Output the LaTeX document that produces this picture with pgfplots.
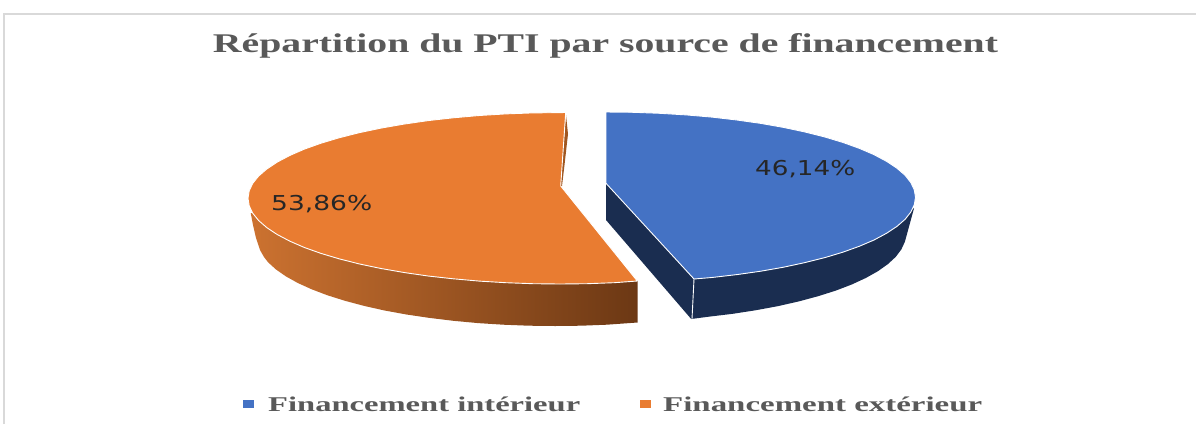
\documentclass[border=0pt]{standalone}
\usepackage{pgfplots}
\pgfplotsset{compat=1.18}
\usepackage{fontspec}
\setmainfont{Liberation Serif}
\newfontfamily\lab{DejaVu Sans}
\definecolor{blueTop}{HTML}{4472C4}
\definecolor{orangeTop}{HTML}{E97C31}
\definecolor{blueSide}{HTML}{1A2D50}
\definecolor{txtgray}{HTML}{595959}
\definecolor{frameGray}{HTML}{D9D9D9}
\begin{document}
\begin{tikzpicture}
\begin{axis}[
  hide axis, scale only axis, width=1196pt, height=424pt,
  xmin=0, xmax=1196, ymin=0, ymax=424, y dir=reverse, clip=true]
\path (rel axis cs:0,0) rectangle (rel axis cs:1,1);
% frame
\addplot[color=frameGray, line width=2pt] coordinates {(3.5,424) (3.5,14) (1196,14)};
% orange side
\addplot[draw=none, left color={rgb,255:red,204;green,114;blue,48},
  middle color={rgb,255:red,168;green,90;blue,36}, right color={rgb,255:red,108;green,56;blue,20}]
  coordinates {(250.7,213) (253,225) (256,238) (260,250) (264,257) (268.1,262.3) (275.9,269.4) (285.8,276.3) (297.8,283) (311.7,289.3) (327.5,295.3) (345,300.8) (364.1,305.9) (384.6,310.5) (406.5,314.5) (429.5,317.9) (453.4,320.8) (478.1,323.1) (503.4,324.7) (529.1,325.7) (555,326) (580.9,325.7) (606.6,324.7) (637.5,322.5) (637.5,281) (560,240)} --cycle;
% orange inner sliver
\addplot[draw=none, fill={rgb,255:red,160;green,86;blue,32}] coordinates {(566,115) (568,134) (564.5,165) (562,186) (560,186)} --cycle;
% orange top
\addplot[draw=white, line width=0.9pt, fill=orangeTop, line join=round] coordinates {(565.7,112.5) (560,112.6) (532.8,112.9) (505.8,113.9) (479.3,115.5) (453.3,117.8) (428.1,120.6) (404,124.1) (381,128.1) (359.4,132.65) (339.4,137.7) (321,143.2) (304.4,149.1) (289.8,155.45) (277.2,162.1) (266.8,169) (258.6,176.1) (252.7,183.4) (249.2,190.8) (248,198.3) (249.2,205.8) (252.7,213.2) (258.6,220.5) (266.8,227.6) (277.2,234.5) (289.8,241.15) (304.4,247.5) (321,253.4) (339.4,258.9) (359.4,263.95) (381,268.5) (404,272.5) (428.1,276) (453.3,278.8) (479.3,281.1) (505.8,282.7) (532.8,283.7) (560,284) (587.2,283.7) (614.2,282.7) (637.3,281) (560.7,186)} --cycle;
% blue side
\addplot[draw=none, fill=blueSide] coordinates {(606,183) (606,220) (691.2,319) (708.6,316.7) (732.8,313.8) (756,310.2) (778.1,306.1) (798.8,301.4) (818.1,296.2) (835.8,290.6) (851.7,284.5) (865.8,278) (877.9,271.2) (887.9,264.1) (895.8,256.8) (901.4,249.3) (904.9,241.7) (914,208.3) (800,200)} --cycle;
% blue top
\addplot[draw=white, line width=0.9pt, fill=blueTop, line join=round] coordinates {(606,112) (633,112.3) (659.7,113.3) (686.1,114.9) (711.9,117.1) (736.8,120) (760.8,123.4) (783.5,127.4) (804.9,131.96) (824.9,137) (843.1,142.5) (859.5,148.4) (874,154.65) (886.5,161.3) (896.8,168.1) (905,175.2) (910.8,182.5) (914.3,189.9) (915.5,197.3) (914.3,204.7) (910.8,212.1) (905,219.4) (896.8,226.5) (886.5,233.3) (874,240) (859.5,246.2) (843.1,252.1) (824.9,257.6) (804.9,262.6) (783.5,267.2) (760.8,271.2) (736.8,274.6) (711.9,277.5) (694,279) (606,183.3)} --cycle;
\addplot[white, line width=0.9pt] coordinates {(694,279) (692,319)};
% legend keys
\addplot[only marks, mark=square*, mark size=4.5pt, blueTop, mark options={draw=none, xscale=1.15, yscale=0.8}] coordinates {(248,404)};
\addplot[only marks, mark=square*, mark size=4.5pt, orangeTop, mark options={draw=none, xscale=1.15, yscale=0.8}] coordinates {(645.5,404)};
% text
\node[anchor=base, text=txtgray, inner sep=0pt] at (axis cs:605.5,52) {\resizebox{785pt}{\height}{\fontsize{27}{27}\selectfont\bfseries Répartition du PTI par source de financement}};
\node[anchor=base west, text=txtgray, inner sep=0pt] at (axis cs:268,411) {\resizebox{312pt}{\height}{\fontsize{21}{21}\selectfont\bfseries Financement intérieur}};
\node[anchor=base west, text=txtgray, inner sep=0pt] at (axis cs:663,411) {\resizebox{319pt}{\height}{\fontsize{21}{21}\selectfont\bfseries Financement extérieur}};
\node[anchor=base west, text=black!85, inner sep=0pt] at (axis cs:755,175) {\resizebox{100pt}{\height}{\fontsize{20.5}{20.5}\selectfont\lab 46,14\%}};
\node[anchor=base west, text=black!85, inner sep=0pt] at (axis cs:271,210) {\resizebox{101pt}{\height}{\fontsize{20.5}{20.5}\selectfont\lab 53,86\%}};
\end{axis}
\end{tikzpicture}
\end{document}
